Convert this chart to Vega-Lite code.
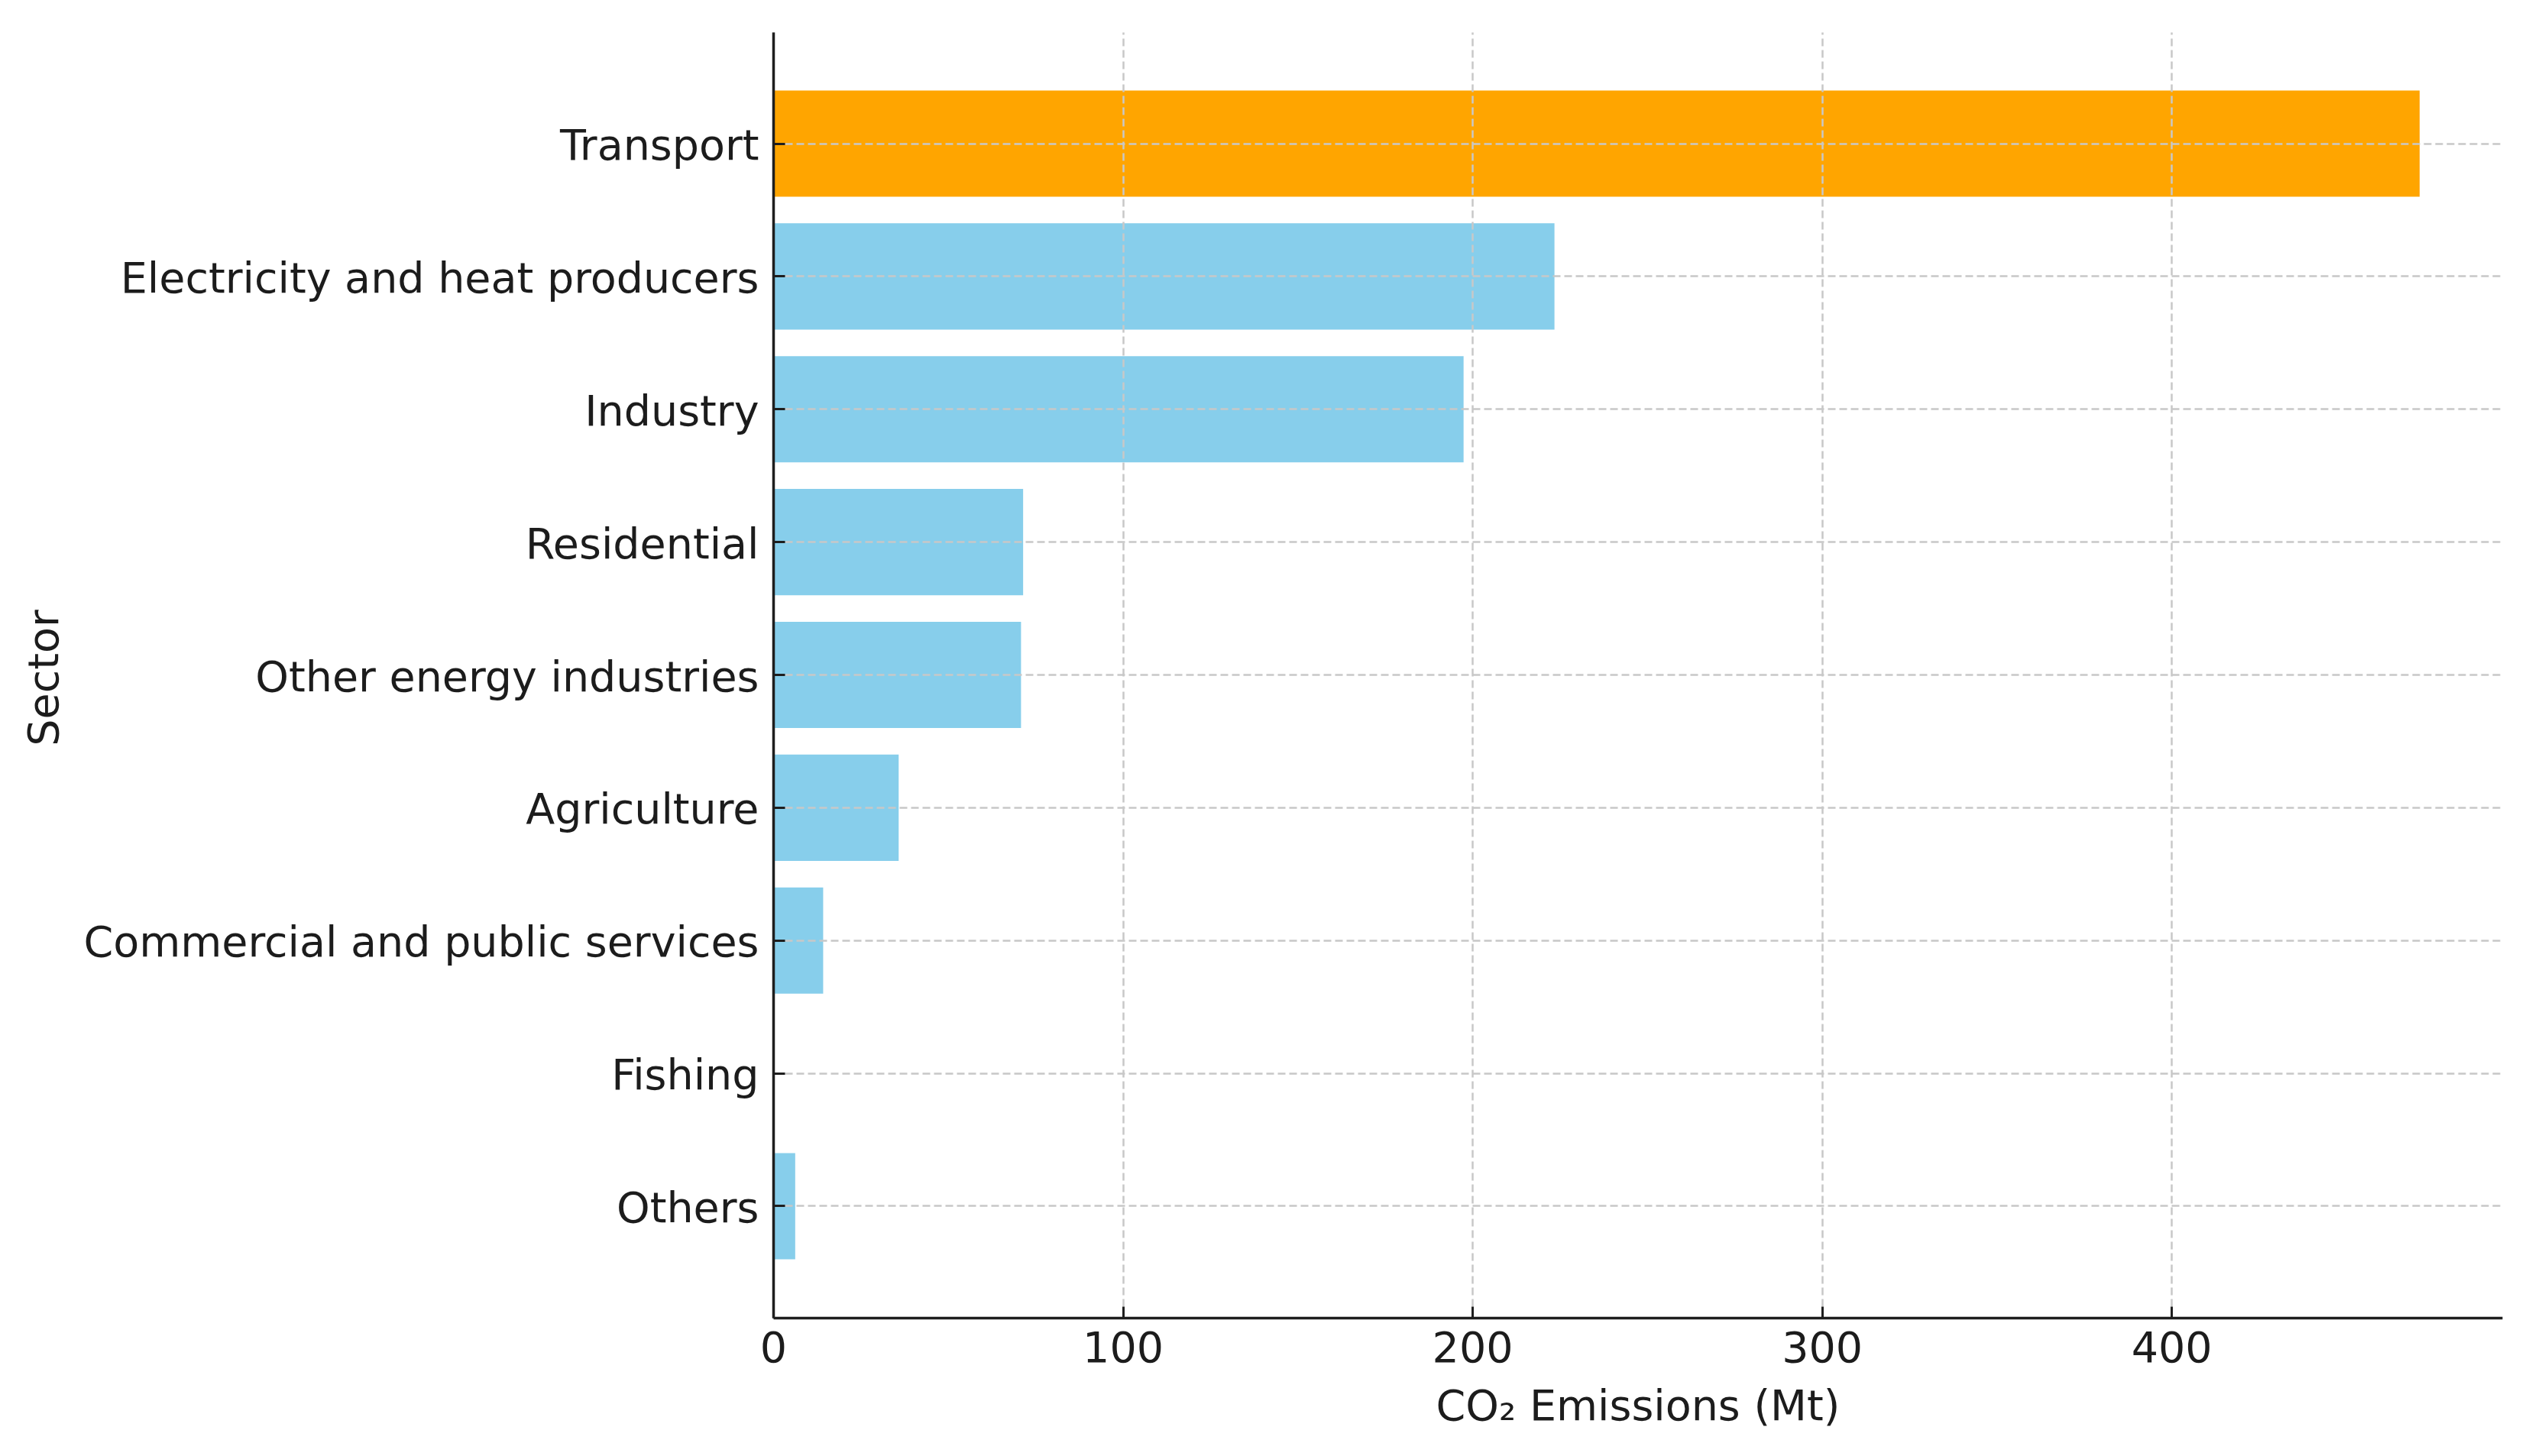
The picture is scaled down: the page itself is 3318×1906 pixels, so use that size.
{
  "$schema": "https://vega.github.io/schema/vega-lite/v6.json",
  "autosize": "none",
  "width": 2263,
  "height": 1683,
  "padding": {"left": 1012, "top": 42, "right": 43, "bottom": 181},
  "background": "white",
  "config": {
    "view": {"stroke": null},
    "font": "DejaVu Sans"
  },
  "data": {
    "values": [
      {"sector": "Transport", "value": 471},
      {"sector": "Electricity and heat producers", "value": 223.5},
      {"sector": "Industry", "value": 197.5},
      {"sector": "Residential", "value": 71.5},
      {"sector": "Other energy industries", "value": 70.9},
      {"sector": "Agriculture", "value": 35.9},
      {"sector": "Commercial and public services", "value": 14.3},
      {"sector": "Fishing", "value": 0},
      {"sector": "Others", "value": 6.3}
    ]
  },
  "mark": {"type": "bar"},
  "encoding": {
    "y": {
      "field": "sector",
      "type": "nominal",
      "sort": null,
      "scale": {"paddingInner": 0.2, "paddingOuter": 0.44},
      "axis": {
        "title": "Sector",
        "titleFont": "DejaVu Sans",
        "titleFontSize": 55.5,
        "titleFontWeight": "normal",
        "titleColor": "#1c1c1c",
        "titleAngle": -90,
        "titleAlign": "center",
        "titleBaseline": "middle",
        "titleX": -954,
        "titleY": 845,
        "labelFont": "DejaVu Sans",
        "labelFontSize": 55.5,
        "labelColor": "#1c1c1c",
        "labelPadding": 34,
        "labelOffset": 4,
        "labelLimit": 2000,
        "tickSize": -15,
        "tickWidth": 3,
        "tickColor": "#1e1e1e",
        "domainColor": "#1e1e1e",
        "domainWidth": 3.5,
        "grid": true,
        "gridColor": "#c8c8c8",
        "gridDash": [10, 5],
        "gridWidth": 2.5,
        "zindex": 1
      }
    },
    "x": {
      "field": "value",
      "type": "quantitative",
      "scale": {"domain": [0, 494.6], "nice": false, "zero": true},
      "axis": {
        "title": "CO₂ Emissions (Mt)",
        "titleFont": "DejaVu Sans",
        "titleFontSize": 55.5,
        "titleFontWeight": "normal",
        "titleColor": "#1c1c1c",
        "titleBaseline": "middle",
        "titleY": 116,
        "values": [0, 100, 200, 300, 400],
        "format": "d",
        "labelFont": "DejaVu Sans",
        "labelFontSize": 55.5,
        "labelColor": "#1c1c1c",
        "labelPadding": 28,
        "labelFlush": false,
        "tickSize": -15,
        "tickWidth": 3,
        "tickColor": "#1e1e1e",
        "domainColor": "#1e1e1e",
        "domainWidth": 3.5,
        "grid": true,
        "gridColor": "#c8c8c8",
        "gridDash": [10, 5],
        "gridWidth": 2.5,
        "zindex": 1
      }
    },
    "color": {
      "condition": {"test": "datum.sector === 'Transport'", "value": "#FFA500"},
      "value": "#87CEEB"
    }
  }
}
